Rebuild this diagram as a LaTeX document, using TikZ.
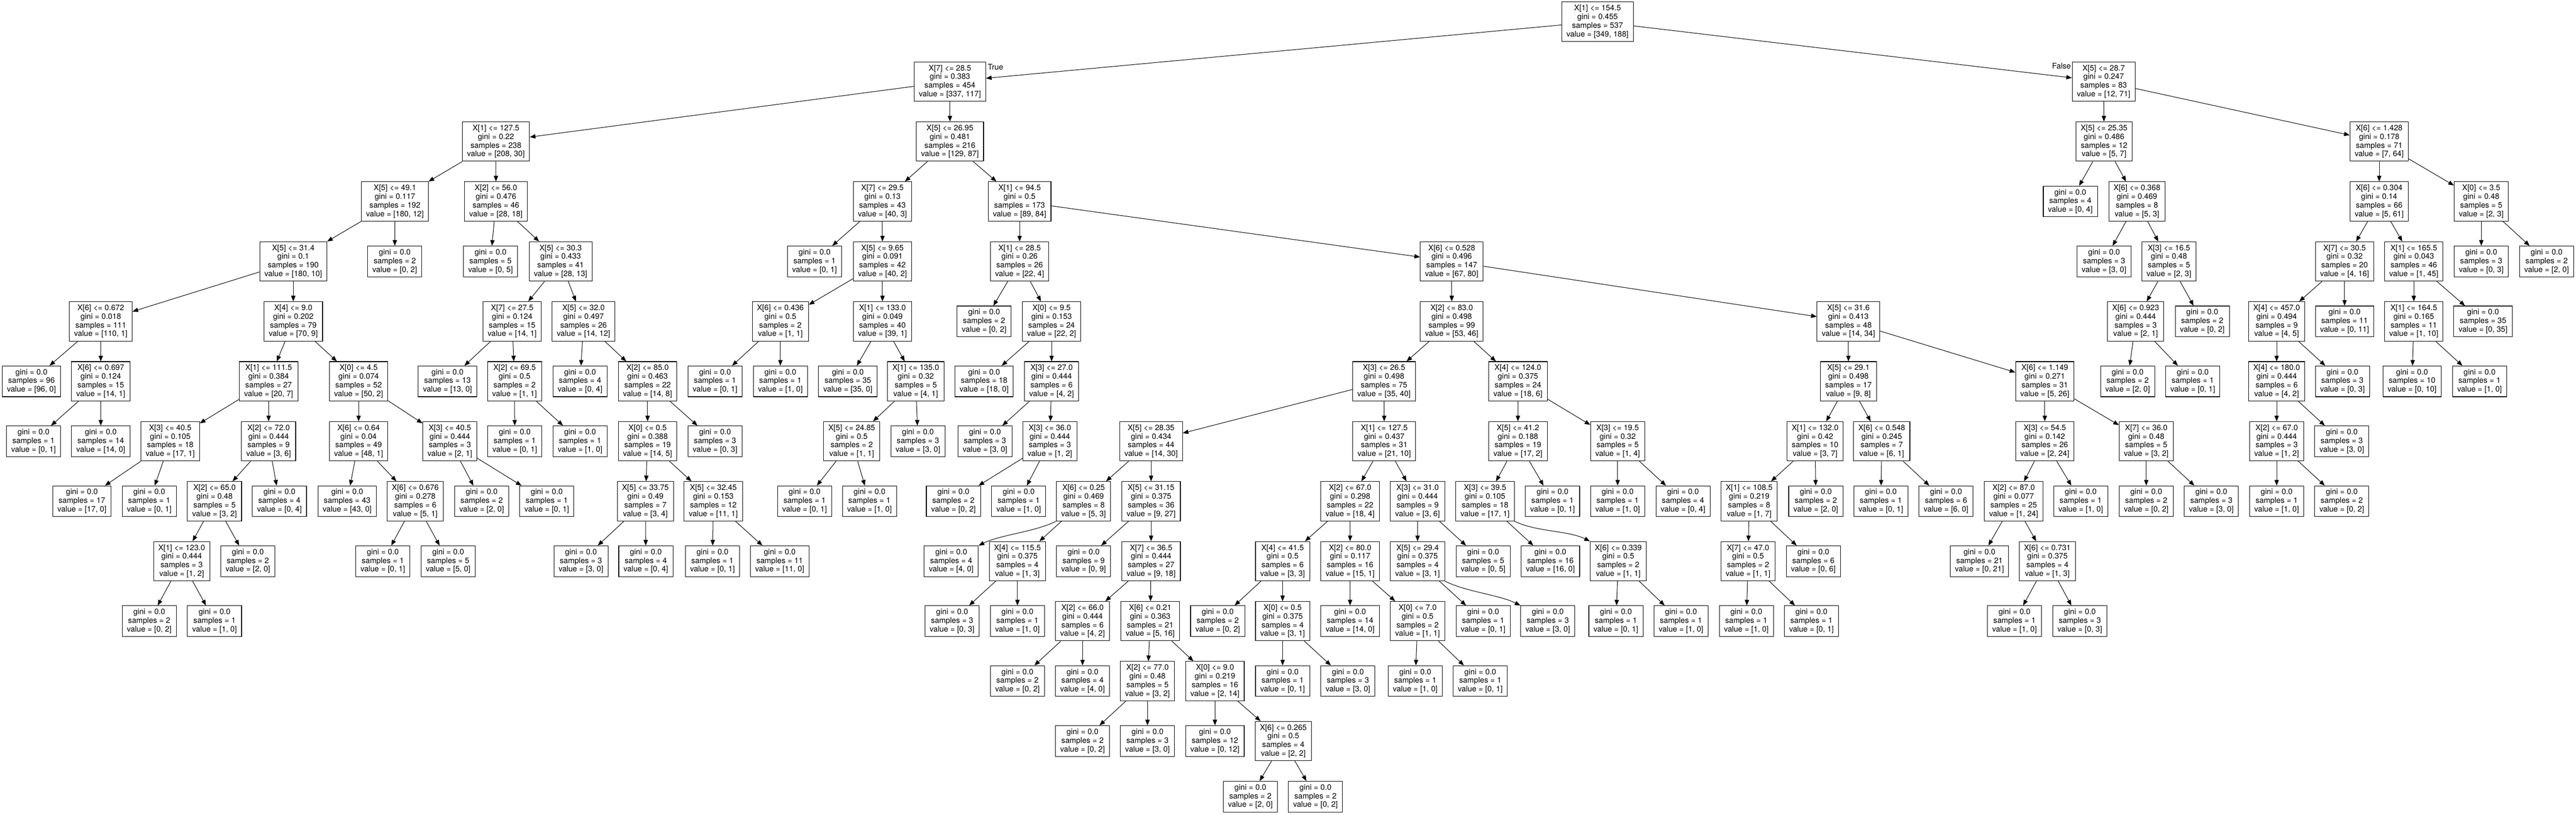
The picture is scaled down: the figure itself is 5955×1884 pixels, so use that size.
\documentclass[tikz,border=0pt]{standalone}
\usepackage{fontspec}
\setmainfont{TeX Gyre Heros}
\usepackage{tikz}
\usetikzlibrary{arrows.meta}

\begin{document}
\begin{tikzpicture}[x=0.1mm, y=-0.1mm]
	\tikzstyle{splitbox}=[draw=black, line width=0.13mm, rectangle, minimum height=9.1mm, inner xsep=1.1mm, inner ysep=0mm, align=center, font=\fontsize{5.12pt}{5.69pt}\selectfont]
	\tikzstyle{leafbox}=[splitbox, minimum height=7.1mm]
	\tikzstyle{branch}=[line width=0.12mm, -{Triangle[length=1.3mm, width=1mm]}]
	\tikzstyle{side}=[inner sep=0mm, font=\fontsize{5.12pt}{5.69pt}\selectfont]

	\useasboundingbox (0, 0) rectangle (5955, 1884);

	% level 0
	\draw node[splitbox] at (3693, 50) (n0) {X[1] <= 154.5\\gini = 0.455\\samples = 537\\value = [349, 188]};

	% level 1
	\draw node[splitbox] at (2196, 188.6) (n1) {X[7] <= 28.5\\gini = 0.383\\samples = 454\\value = [337, 117]};
	\draw node[splitbox] at (4863, 188.6) (n2) {X[5] <= 28.7\\gini = 0.247\\samples = 83\\value = [12, 71]};
	\draw node[side, anchor=west] at (2283, 155) (ltrue) {True};
	\draw node[side, anchor=east] at (4788, 153) (lfalse) {False};

	% level 2
	\draw node[splitbox] at (1146.5, 327.2) (n3) {X[1] <= 127.5\\gini = 0.22\\samples = 238\\value = [208, 30]};
	\draw node[splitbox] at (2196, 327.2) (n4) {X[5] <= 26.95\\gini = 0.481\\samples = 216\\value = [129, 87]};
	\draw node[splitbox] at (4864, 327.2) (n5) {X[5] <= 25.35\\gini = 0.486\\samples = 12\\value = [5, 7]};
	\draw node[splitbox] at (5500, 327.2) (n6) {X[6] <= 1.428\\gini = 0.178\\samples = 71\\value = [7, 64]};

	% level 3
	\draw node[splitbox] at (913, 465.8) (n7) {X[5] <= 49.1\\gini = 0.117\\samples = 192\\value = [180, 12]};
	\draw node[splitbox] at (1146.5, 465.8) (n8) {X[2] <= 56.0\\gini = 0.476\\samples = 46\\value = [28, 18]};
	\draw node[splitbox] at (2040, 465.8) (n9) {X[7] <= 29.5\\gini = 0.13\\samples = 43\\value = [40, 3]};
	\draw node[splitbox] at (2357, 465.8) (n10) {X[1] <= 94.5\\gini = 0.5\\samples = 173\\value = [89, 84]};
	\draw node[leafbox] at (4786, 465.8) (n11) {gini = 0.0\\samples = 4\\value = [0, 4]};
	\draw node[splitbox] at (4940, 465.8) (n12) {X[6] <= 0.368\\gini = 0.469\\samples = 8\\value = [5, 3]};
	\draw node[splitbox] at (5500, 465.8) (n13) {X[6] <= 0.304\\gini = 0.14\\samples = 66\\value = [5, 61]};
	\draw node[splitbox] at (5736, 465.8) (n14) {X[0] <= 3.5\\gini = 0.48\\samples = 5\\value = [2, 3]};

	% level 4
	\draw node[splitbox] at (678, 604.4) (n15) {X[5] <= 31.4\\gini = 0.1\\samples = 190\\value = [180, 10]};
	\draw node[leafbox] at (912.6, 604.4) (n16) {gini = 0.0\\samples = 2\\value = [0, 2]};
	\draw node[leafbox] at (1134, 604.4) (n17) {gini = 0.0\\samples = 5\\value = [0, 5]};
	\draw node[splitbox] at (1296, 604.4) (n18) {X[5] <= 30.3\\gini = 0.433\\samples = 41\\value = [28, 13]};
	\draw node[leafbox] at (1883, 604.4) (n19) {gini = 0.0\\samples = 1\\value = [0, 1]};
	\draw node[splitbox] at (2040, 604.4) (n20) {X[5] <= 9.65\\gini = 0.091\\samples = 42\\value = [40, 2]};
	\draw node[splitbox] at (2357, 604.4) (n21) {X[1] <= 28.5\\gini = 0.26\\samples = 26\\value = [22, 4]};
	\draw node[splitbox] at (3356, 604.4) (n22) {X[6] <= 0.528\\gini = 0.496\\samples = 147\\value = [67, 80]};
	\draw node[leafbox] at (4864, 604.4) (n23) {gini = 0.0\\samples = 3\\value = [3, 0]};
	\draw node[splitbox] at (5014, 604.4) (n24) {X[3] <= 16.5\\gini = 0.48\\samples = 5\\value = [2, 3]};
	\draw node[splitbox] at (5420, 604.4) (n25) {X[7] <= 30.5\\gini = 0.32\\samples = 20\\value = [4, 16]};
	\draw node[splitbox] at (5580, 604.4) (n26) {X[1] <= 165.5\\gini = 0.043\\samples = 46\\value = [1, 45]};
	\draw node[leafbox] at (5736, 604.4) (n27) {gini = 0.0\\samples = 3\\value = [0, 3]};
	\draw node[leafbox] at (5887, 604.4) (n28) {gini = 0.0\\samples = 2\\value = [2, 0]};

	% level 5
	\draw node[splitbox] at (233, 743) (n29) {X[6] <= 0.672\\gini = 0.018\\samples = 111\\value = [110, 1]};
	\draw node[splitbox] at (678, 743) (n30) {X[4] <= 9.0\\gini = 0.202\\samples = 79\\value = [70, 9]};
	\draw node[splitbox] at (1184, 743) (n31) {X[7] <= 27.5\\gini = 0.124\\samples = 15\\value = [14, 1]};
	\draw node[splitbox] at (1349, 743) (n32) {X[5] <= 32.0\\gini = 0.497\\samples = 26\\value = [14, 12]};
	\draw node[splitbox] at (1804, 743) (n33) {X[6] <= 0.436\\gini = 0.5\\samples = 2\\value = [1, 1]};
	\draw node[splitbox] at (2040, 743) (n34) {X[1] <= 133.0\\gini = 0.049\\samples = 40\\value = [39, 1]};
	\draw node[leafbox] at (2275, 743) (n35) {gini = 0.0\\samples = 2\\value = [0, 2]};
	\draw node[splitbox] at (2431, 743) (n36) {X[0] <= 9.5\\gini = 0.153\\samples = 24\\value = [22, 2]};
	\draw node[splitbox] at (3356, 743) (n37) {X[2] <= 83.0\\gini = 0.498\\samples = 99\\value = [53, 46]};
	\draw node[splitbox] at (4273, 743) (n38) {X[5] <= 31.6\\gini = 0.413\\samples = 48\\value = [14, 34]};
	\draw node[splitbox] at (4937, 743) (n39) {X[6] <= 0.923\\gini = 0.444\\samples = 3\\value = [2, 1]};
	\draw node[leafbox] at (5091, 743) (n40) {gini = 0.0\\samples = 2\\value = [0, 2]};
	\draw node[splitbox] at (5263, 743) (n41) {X[4] <= 457.0\\gini = 0.494\\samples = 9\\value = [4, 5]};
	\draw node[leafbox] at (5420, 743) (n42) {gini = 0.0\\samples = 11\\value = [0, 11]};
	\draw node[splitbox] at (5580, 743) (n43) {X[1] <= 164.5\\gini = 0.165\\samples = 11\\value = [1, 10]};
	\draw node[leafbox] at (5740, 743) (n44) {gini = 0.0\\samples = 35\\value = [0, 35]};

	% level 6
	\draw node[leafbox] at (72.7, 881.6) (n45) {gini = 0.0\\samples = 96\\value = [96, 0]};
	\draw node[splitbox] at (233, 881.6) (n46) {X[6] <= 0.697\\gini = 0.124\\samples = 15\\value = [14, 1]};
	\draw node[splitbox] at (621, 881.6) (n47) {X[1] <= 111.5\\gini = 0.384\\samples = 27\\value = [20, 7]};
	\draw node[splitbox] at (829, 881.6) (n48) {X[0] <= 4.5\\gini = 0.074\\samples = 52\\value = [50, 2]};
	\draw node[leafbox] at (1034.5, 881.6) (n49) {gini = 0.0\\samples = 13\\value = [13, 0]};
	\draw node[splitbox] at (1189.5, 881.6) (n50) {X[2] <= 69.5\\gini = 0.5\\samples = 2\\value = [1, 1]};
	\draw node[leafbox] at (1341, 881.6) (n51) {gini = 0.0\\samples = 4\\value = [0, 4]};
	\draw node[splitbox] at (1497, 881.6) (n52) {X[2] <= 85.0\\gini = 0.463\\samples = 22\\value = [14, 8]};
	\draw node[leafbox] at (1653, 881.6) (n53) {gini = 0.0\\samples = 1\\value = [0, 1]};
	\draw node[leafbox] at (1804, 881.6) (n54) {gini = 0.0\\samples = 1\\value = [1, 0]};
	\draw node[leafbox] at (1960, 881.6) (n55) {gini = 0.0\\samples = 35\\value = [35, 0]};
	\draw node[splitbox] at (2117, 881.6) (n56) {X[1] <= 135.0\\gini = 0.32\\samples = 5\\value = [4, 1]};
	\draw node[leafbox] at (2275, 881.6) (n57) {gini = 0.0\\samples = 18\\value = [18, 0]};
	\draw node[splitbox] at (2431, 881.6) (n58) {X[3] <= 27.0\\gini = 0.444\\samples = 6\\value = [4, 2]};
	\draw node[splitbox] at (3199.5, 881.6) (n59) {X[3] <= 26.5\\gini = 0.498\\samples = 75\\value = [35, 40]};
	\draw node[splitbox] at (3509, 881.6) (n60) {X[4] <= 124.0\\gini = 0.375\\samples = 24\\value = [18, 6]};
	\draw node[splitbox] at (4273, 881.6) (n61) {X[5] <= 29.1\\gini = 0.498\\samples = 17\\value = [9, 8]};
	\draw node[splitbox] at (4727, 881.6) (n62) {X[6] <= 1.149\\gini = 0.271\\samples = 31\\value = [5, 26]};
	\draw node[leafbox] at (4918.5, 881.6) (n63) {gini = 0.0\\samples = 2\\value = [2, 0]};
	\draw node[leafbox] at (5069, 881.6) (n64) {gini = 0.0\\samples = 1\\value = [0, 1]};
	\draw node[splitbox] at (5263, 881.6) (n65) {X[4] <= 180.0\\gini = 0.444\\samples = 6\\value = [4, 2]};
	\draw node[leafbox] at (5415, 881.6) (n66) {gini = 0.0\\samples = 3\\value = [0, 3]};
	\draw node[leafbox] at (5576, 881.6) (n67) {gini = 0.0\\samples = 10\\value = [0, 10]};
	\draw node[leafbox] at (5732, 881.6) (n68) {gini = 0.0\\samples = 1\\value = [1, 0]};

	% level 7
	\draw node[leafbox] at (77.5, 1020.2) (n69) {gini = 0.0\\samples = 1\\value = [0, 1]};
	\draw node[leafbox] at (233, 1020.2) (n70) {gini = 0.0\\samples = 14\\value = [14, 0]};
	\draw node[splitbox] at (393.6, 1020.2) (n71) {X[3] <= 40.5\\gini = 0.105\\samples = 18\\value = [17, 1]};
	\draw node[splitbox] at (621, 1020.2) (n72) {X[2] <= 72.0\\gini = 0.444\\samples = 9\\value = [3, 6]};
	\draw node[splitbox] at (829, 1020.2) (n73) {X[6] <= 0.64\\gini = 0.04\\samples = 49\\value = [48, 1]};
	\draw node[splitbox] at (1040, 1020.2) (n74) {X[3] <= 40.5\\gini = 0.444\\samples = 3\\value = [2, 1]};
	\draw node[leafbox] at (1190, 1020.2) (n75) {gini = 0.0\\samples = 1\\value = [0, 1]};
	\draw node[leafbox] at (1341, 1020.2) (n76) {gini = 0.0\\samples = 1\\value = [1, 0]};
	\draw node[splitbox] at (1497, 1020.2) (n77) {X[0] <= 0.5\\gini = 0.388\\samples = 19\\value = [14, 5]};
	\draw node[leafbox] at (1653, 1020.2) (n78) {gini = 0.0\\samples = 3\\value = [0, 3]};
	\draw node[splitbox] at (1969, 1020.2) (n79) {X[5] <= 24.85\\gini = 0.5\\samples = 2\\value = [1, 1]};
	\draw node[leafbox] at (2122, 1020.2) (n80) {gini = 0.0\\samples = 3\\value = [3, 0]};
	\draw node[leafbox] at (2277, 1020.2) (n81) {gini = 0.0\\samples = 3\\value = [3, 0]};
	\draw node[splitbox] at (2427, 1020.2) (n82) {X[3] <= 36.0\\gini = 0.444\\samples = 3\\value = [1, 2]};
	\draw node[splitbox] at (2661, 1020.2) (n83) {X[5] <= 28.35\\gini = 0.434\\samples = 44\\value = [14, 30]};
	\draw node[splitbox] at (3200, 1020.2) (n84) {X[1] <= 127.5\\gini = 0.437\\samples = 31\\value = [21, 10]};
	\draw node[splitbox] at (3509, 1020.2) (n85) {X[5] <= 41.2\\gini = 0.188\\samples = 19\\value = [17, 2]};
	\draw node[splitbox] at (3739.5, 1020.2) (n86) {X[3] <= 19.5\\gini = 0.32\\samples = 5\\value = [1, 4]};
	\draw node[splitbox] at (4196, 1020.2) (n87) {X[1] <= 132.0\\gini = 0.42\\samples = 10\\value = [3, 7]};
	\draw node[splitbox] at (4350, 1020.2) (n88) {X[6] <= 0.548\\gini = 0.245\\samples = 7\\value = [6, 1]};
	\draw node[splitbox] at (4727, 1020.2) (n89) {X[3] <= 54.5\\gini = 0.142\\samples = 26\\value = [2, 24]};
	\draw node[splitbox] at (4961.5, 1020.2) (n90) {X[7] <= 36.0\\gini = 0.48\\samples = 5\\value = [3, 2]};
	\draw node[splitbox] at (5263, 1020.2) (n91) {X[2] <= 67.0\\gini = 0.444\\samples = 3\\value = [1, 2]};
	\draw node[leafbox] at (5413.5, 1020.2) (n92) {gini = 0.0\\samples = 3\\value = [3, 0]};

	% level 8
	\draw node[leafbox] at (189.4, 1158.8) (n93) {gini = 0.0\\samples = 17\\value = [17, 0]};
	\draw node[leafbox] at (345, 1158.8) (n94) {gini = 0.0\\samples = 1\\value = [0, 1]};
	\draw node[splitbox] at (496, 1158.8) (n95) {X[2] <= 65.0\\gini = 0.48\\samples = 5\\value = [3, 2]};
	\draw node[leafbox] at (646, 1158.8) (n96) {gini = 0.0\\samples = 4\\value = [0, 4]};
	\draw node[leafbox] at (802.6, 1158.8) (n97) {gini = 0.0\\samples = 43\\value = [43, 0]};
	\draw node[splitbox] at (960, 1158.8) (n98) {X[6] <= 0.676\\gini = 0.278\\samples = 6\\value = [5, 1]};
	\draw node[leafbox] at (1113.5, 1158.8) (n99) {gini = 0.0\\samples = 2\\value = [2, 0]};
	\draw node[leafbox] at (1264, 1158.8) (n100) {gini = 0.0\\samples = 1\\value = [0, 1]};
	\draw node[splitbox] at (1492, 1158.8) (n101) {X[5] <= 33.75\\gini = 0.49\\samples = 7\\value = [3, 4]};
	\draw node[splitbox] at (1649, 1158.8) (n102) {X[5] <= 32.45\\gini = 0.153\\samples = 12\\value = [11, 1]};
	\draw node[leafbox] at (1860, 1158.8) (n103) {gini = 0.0\\samples = 1\\value = [0, 1]};
	\draw node[leafbox] at (2010, 1158.8) (n104) {gini = 0.0\\samples = 1\\value = [1, 0]};
	\draw node[leafbox] at (2204, 1158.8) (n105) {gini = 0.0\\samples = 2\\value = [0, 2]};
	\draw node[leafbox] at (2355, 1158.8) (n106) {gini = 0.0\\samples = 1\\value = [1, 0]};
	\draw node[splitbox] at (2505, 1158.8) (n107) {X[6] <= 0.25\\gini = 0.469\\samples = 8\\value = [5, 3]};
	\draw node[splitbox] at (2661, 1158.8) (n108) {X[5] <= 31.15\\gini = 0.375\\samples = 36\\value = [9, 27]};
	\draw node[splitbox] at (3121, 1158.8) (n109) {X[2] <= 67.0\\gini = 0.298\\samples = 22\\value = [18, 4]};
	\draw node[splitbox] at (3277, 1158.8) (n110) {X[3] <= 31.0\\gini = 0.444\\samples = 9\\value = [3, 6]};
	\draw node[splitbox] at (3433, 1158.8) (n111) {X[3] <= 39.5\\gini = 0.105\\samples = 18\\value = [17, 1]};
	\draw node[leafbox] at (3589, 1158.8) (n112) {gini = 0.0\\samples = 1\\value = [0, 1]};
	\draw node[leafbox] at (3739.5, 1158.8) (n113) {gini = 0.0\\samples = 1\\value = [1, 0]};
	\draw node[leafbox] at (3890.6, 1158.8) (n114) {gini = 0.0\\samples = 4\\value = [0, 4]};
	\draw node[splitbox] at (4043.6, 1158.8) (n115) {X[1] <= 108.5\\gini = 0.219\\samples = 8\\value = [1, 7]};
	\draw node[leafbox] at (4197.7, 1158.8) (n116) {gini = 0.0\\samples = 2\\value = [2, 0]};
	\draw node[leafbox] at (4348, 1158.8) (n117) {gini = 0.0\\samples = 1\\value = [0, 1]};
	\draw node[leafbox] at (4498.7, 1158.8) (n118) {gini = 0.0\\samples = 6\\value = [6, 0]};
	\draw node[splitbox] at (4655, 1158.8) (n119) {X[2] <= 87.0\\gini = 0.077\\samples = 25\\value = [1, 24]};
	\draw node[leafbox] at (4810, 1158.8) (n120) {gini = 0.0\\samples = 1\\value = [1, 0]};
	\draw node[leafbox] at (4961.5, 1158.8) (n121) {gini = 0.0\\samples = 2\\value = [0, 2]};
	\draw node[leafbox] at (5112, 1158.8) (n122) {gini = 0.0\\samples = 3\\value = [3, 0]};
	\draw node[leafbox] at (5263, 1158.8) (n123) {gini = 0.0\\samples = 1\\value = [1, 0]};
	\draw node[leafbox] at (5413.5, 1158.8) (n124) {gini = 0.0\\samples = 2\\value = [0, 2]};

	% level 9
	\draw node[splitbox] at (420, 1297.4) (n125) {X[1] <= 123.0\\gini = 0.444\\samples = 3\\value = [1, 2]};
	\draw node[leafbox] at (573, 1297.4) (n126) {gini = 0.0\\samples = 2\\value = [2, 0]};
	\draw node[leafbox] at (885, 1297.4) (n127) {gini = 0.0\\samples = 1\\value = [0, 1]};
	\draw node[leafbox] at (1036, 1297.4) (n128) {gini = 0.0\\samples = 5\\value = [5, 0]};
	\draw node[leafbox] at (1343, 1297.4) (n129) {gini = 0.0\\samples = 3\\value = [3, 0]};
	\draw node[leafbox] at (1493, 1297.4) (n130) {gini = 0.0\\samples = 4\\value = [0, 4]};
	\draw node[leafbox] at (1647, 1297.4) (n131) {gini = 0.0\\samples = 1\\value = [0, 1]};
	\draw node[leafbox] at (1802.5, 1297.4) (n132) {gini = 0.0\\samples = 11\\value = [11, 0]};
	\draw node[leafbox] at (2199, 1297.4) (n133) {gini = 0.0\\samples = 4\\value = [4, 0]};
	\draw node[splitbox] at (2352, 1297.4) (n134) {X[4] <= 115.5\\gini = 0.375\\samples = 4\\value = [1, 3]};
	\draw node[leafbox] at (2505, 1297.4) (n135) {gini = 0.0\\samples = 9\\value = [0, 9]};
	\draw node[splitbox] at (2661, 1297.4) (n136) {X[7] <= 36.5\\gini = 0.444\\samples = 27\\value = [9, 18]};
	\draw node[splitbox] at (2965, 1297.4) (n137) {X[4] <= 41.5\\gini = 0.5\\samples = 6\\value = [3, 3]};
	\draw node[splitbox] at (3121, 1297.4) (n138) {X[2] <= 80.0\\gini = 0.117\\samples = 16\\value = [15, 1]};
	\draw node[splitbox] at (3277, 1297.4) (n139) {X[5] <= 29.4\\gini = 0.375\\samples = 4\\value = [3, 1]};
	\draw node[leafbox] at (3428.6, 1297.4) (n140) {gini = 0.0\\samples = 5\\value = [0, 5]};
	\draw node[leafbox] at (3584, 1297.4) (n141) {gini = 0.0\\samples = 16\\value = [16, 0]};
	\draw node[splitbox] at (3741, 1297.4) (n142) {X[6] <= 0.339\\gini = 0.5\\samples = 2\\value = [1, 1]};
	\draw node[splitbox] at (4041, 1297.4) (n143) {X[7] <= 47.0\\gini = 0.5\\samples = 2\\value = [1, 1]};
	\draw node[leafbox] at (4192, 1297.4) (n144) {gini = 0.0\\samples = 6\\value = [0, 6]};
	\draw node[leafbox] at (4576, 1297.4) (n145) {gini = 0.0\\samples = 21\\value = [0, 21]};
	\draw node[splitbox] at (4733, 1297.4) (n146) {X[6] <= 0.731\\gini = 0.375\\samples = 4\\value = [1, 3]};

	% level 10
	\draw node[leafbox] at (345, 1436) (n147) {gini = 0.0\\samples = 2\\value = [0, 2]};
	\draw node[leafbox] at (496, 1436) (n148) {gini = 0.0\\samples = 1\\value = [1, 0]};
	\draw node[leafbox] at (2201, 1436) (n149) {gini = 0.0\\samples = 3\\value = [0, 3]};
	\draw node[leafbox] at (2352, 1436) (n150) {gini = 0.0\\samples = 1\\value = [1, 0]};
	\draw node[splitbox] at (2502.5, 1436) (n151) {X[2] <= 66.0\\gini = 0.444\\samples = 6\\value = [4, 2]};
	\draw node[splitbox] at (2659, 1436) (n152) {X[6] <= 0.21\\gini = 0.363\\samples = 21\\value = [5, 16]};
	\draw node[leafbox] at (2815, 1436) (n153) {gini = 0.0\\samples = 2\\value = [0, 2]};
	\draw node[splitbox] at (2965, 1436) (n154) {X[0] <= 0.5\\gini = 0.375\\samples = 4\\value = [3, 1]};
	\draw node[leafbox] at (3121, 1436) (n155) {gini = 0.0\\samples = 14\\value = [14, 0]};
	\draw node[splitbox] at (3277, 1436) (n156) {X[0] <= 7.0\\gini = 0.5\\samples = 2\\value = [1, 1]};
	\draw node[leafbox] at (3428.6, 1436) (n157) {gini = 0.0\\samples = 1\\value = [0, 1]};
	\draw node[leafbox] at (3578, 1436) (n158) {gini = 0.0\\samples = 3\\value = [3, 0]};
	\draw node[leafbox] at (3735.6, 1436) (n159) {gini = 0.0\\samples = 1\\value = [0, 1]};
	\draw node[leafbox] at (3886, 1436) (n160) {gini = 0.0\\samples = 1\\value = [1, 0]};
	\draw node[leafbox] at (4037, 1436) (n161) {gini = 0.0\\samples = 1\\value = [1, 0]};
	\draw node[leafbox] at (4187.6, 1436) (n162) {gini = 0.0\\samples = 1\\value = [0, 1]};
	\draw node[leafbox] at (4657, 1436) (n163) {gini = 0.0\\samples = 1\\value = [1, 0]};
	\draw node[leafbox] at (4808, 1436) (n164) {gini = 0.0\\samples = 3\\value = [0, 3]};

	% level 11
	\draw node[leafbox] at (2352, 1574.6) (n165) {gini = 0.0\\samples = 2\\value = [0, 2]};
	\draw node[leafbox] at (2502.5, 1574.6) (n166) {gini = 0.0\\samples = 4\\value = [4, 0]};
	\draw node[splitbox] at (2652.7, 1574.6) (n167) {X[2] <= 77.0\\gini = 0.48\\samples = 5\\value = [3, 2]};
	\draw node[splitbox] at (2808.6, 1574.6) (n168) {X[0] <= 9.0\\gini = 0.219\\samples = 16\\value = [2, 14]};
	\draw node[leafbox] at (2965, 1574.6) (n169) {gini = 0.0\\samples = 1\\value = [0, 1]};
	\draw node[leafbox] at (3116, 1574.6) (n170) {gini = 0.0\\samples = 3\\value = [3, 0]};
	\draw node[leafbox] at (3271.7, 1574.6) (n171) {gini = 0.0\\samples = 1\\value = [1, 0]};
	\draw node[leafbox] at (3422, 1574.6) (n172) {gini = 0.0\\samples = 1\\value = [0, 1]};

	% level 12
	\draw node[leafbox] at (2502.5, 1713.2) (n173) {gini = 0.0\\samples = 2\\value = [0, 2]};
	\draw node[leafbox] at (2652.7, 1713.2) (n174) {gini = 0.0\\samples = 3\\value = [3, 0]};
	\draw node[leafbox] at (2808.6, 1713.2) (n175) {gini = 0.0\\samples = 12\\value = [0, 12]};
	\draw node[splitbox] at (2966.7, 1713.2) (n176) {X[6] <= 0.265\\gini = 0.5\\samples = 4\\value = [2, 2]};

	% level 13
	\draw node[leafbox] at (2890.5, 1841.7) (n177) {gini = 0.0\\samples = 2\\value = [2, 0]};
	\draw node[leafbox] at (3041, 1841.7) (n178) {gini = 0.0\\samples = 2\\value = [0, 2]};

	% branches
	\draw[branch] (n0) -- (n1); \draw[branch] (n0) -- (n2);
	\draw[branch] (n1) -- (n3); \draw[branch] (n1) -- (n4);
	\draw[branch] (n2) -- (n5); \draw[branch] (n2) -- (n6);
	\draw[branch] (n3) -- (n7); \draw[branch] (n3) -- (n8);
	\draw[branch] (n4) -- (n9); \draw[branch] (n4) -- (n10);
	\draw[branch] (n5) -- (n11); \draw[branch] (n5) -- (n12);
	\draw[branch] (n6) -- (n13); \draw[branch] (n6) -- (n14);
	\draw[branch] (n7) -- (n15); \draw[branch] (n7) -- (n16);
	\draw[branch] (n8) -- (n17); \draw[branch] (n8) -- (n18);
	\draw[branch] (n9) -- (n19); \draw[branch] (n9) -- (n20);
	\draw[branch] (n10) -- (n21); \draw[branch] (n10) -- (n22);
	\draw[branch] (n12) -- (n23); \draw[branch] (n12) -- (n24);
	\draw[branch] (n13) -- (n25); \draw[branch] (n13) -- (n26);
	\draw[branch] (n14) -- (n27); \draw[branch] (n14) -- (n28);
	\draw[branch] (n15) -- (n29); \draw[branch] (n15) -- (n30);
	\draw[branch] (n18) -- (n31); \draw[branch] (n18) -- (n32);
	\draw[branch] (n20) -- (n33); \draw[branch] (n20) -- (n34);
	\draw[branch] (n21) -- (n35); \draw[branch] (n21) -- (n36);
	\draw[branch] (n22) -- (n37); \draw[branch] (n22) -- (n38);
	\draw[branch] (n24) -- (n39); \draw[branch] (n24) -- (n40);
	\draw[branch] (n25) -- (n41); \draw[branch] (n25) -- (n42);
	\draw[branch] (n26) -- (n43); \draw[branch] (n26) -- (n44);
	\draw[branch] (n29) -- (n45); \draw[branch] (n29) -- (n46);
	\draw[branch] (n30) -- (n47); \draw[branch] (n30) -- (n48);
	\draw[branch] (n31) -- (n49); \draw[branch] (n31) -- (n50);
	\draw[branch] (n32) -- (n51); \draw[branch] (n32) -- (n52);
	\draw[branch] (n33) -- (n53); \draw[branch] (n33) -- (n54);
	\draw[branch] (n34) -- (n55); \draw[branch] (n34) -- (n56);
	\draw[branch] (n36) -- (n57); \draw[branch] (n36) -- (n58);
	\draw[branch] (n37) -- (n59); \draw[branch] (n37) -- (n60);
	\draw[branch] (n38) -- (n61); \draw[branch] (n38) -- (n62);
	\draw[branch] (n39) -- (n63); \draw[branch] (n39) -- (n64);
	\draw[branch] (n41) -- (n65); \draw[branch] (n41) -- (n66);
	\draw[branch] (n43) -- (n67); \draw[branch] (n43) -- (n68);
	\draw[branch] (n46) -- (n69); \draw[branch] (n46) -- (n70);
	\draw[branch] (n47) -- (n71); \draw[branch] (n47) -- (n72);
	\draw[branch] (n48) -- (n73); \draw[branch] (n48) -- (n74);
	\draw[branch] (n50) -- (n75); \draw[branch] (n50) -- (n76);
	\draw[branch] (n52) -- (n77); \draw[branch] (n52) -- (n78);
	\draw[branch] (n56) -- (n79); \draw[branch] (n56) -- (n80);
	\draw[branch] (n58) -- (n81); \draw[branch] (n58) -- (n82);
	\draw[branch] (n59) -- (n83); \draw[branch] (n59) -- (n84);
	\draw[branch] (n60) -- (n85); \draw[branch] (n60) -- (n86);
	\draw[branch] (n61) -- (n87); \draw[branch] (n61) -- (n88);
	\draw[branch] (n62) -- (n89); \draw[branch] (n62) -- (n90);
	\draw[branch] (n65) -- (n91); \draw[branch] (n65) -- (n92);
	\draw[branch] (n71) -- (n93); \draw[branch] (n71) -- (n94);
	\draw[branch] (n72) -- (n95); \draw[branch] (n72) -- (n96);
	\draw[branch] (n73) -- (n97); \draw[branch] (n73) -- (n98);
	\draw[branch] (n74) -- (n99); \draw[branch] (n74) -- (n100);
	\draw[branch] (n77) -- (n101); \draw[branch] (n77) -- (n102);
	\draw[branch] (n79) -- (n103); \draw[branch] (n79) -- (n104);
	\draw[branch] (n82) -- (n105); \draw[branch] (n82) -- (n106);
	\draw[branch] (n83) -- (n107); \draw[branch] (n83) -- (n108);
	\draw[branch] (n84) -- (n109); \draw[branch] (n84) -- (n110);
	\draw[branch] (n85) -- (n111); \draw[branch] (n85) -- (n112);
	\draw[branch] (n86) -- (n113); \draw[branch] (n86) -- (n114);
	\draw[branch] (n87) -- (n115); \draw[branch] (n87) -- (n116);
	\draw[branch] (n88) -- (n117); \draw[branch] (n88) -- (n118);
	\draw[branch] (n89) -- (n119); \draw[branch] (n89) -- (n120);
	\draw[branch] (n90) -- (n121); \draw[branch] (n90) -- (n122);
	\draw[branch] (n91) -- (n123); \draw[branch] (n91) -- (n124);
	\draw[branch] (n95) -- (n125); \draw[branch] (n95) -- (n126);
	\draw[branch] (n98) -- (n127); \draw[branch] (n98) -- (n128);
	\draw[branch] (n101) -- (n129); \draw[branch] (n101) -- (n130);
	\draw[branch] (n102) -- (n131); \draw[branch] (n102) -- (n132);
	\draw[branch] (n107.south west) .. controls +(-50, 25) and +(50, -25) .. (n133.north east);
	\draw[branch] (n107) -- (n134);
	\draw[branch] (n108) -- (n135); \draw[branch] (n108) -- (n136);
	\draw[branch] (n109) -- (n137); \draw[branch] (n109) -- (n138);
	\draw[branch] (n110) -- (n139); \draw[branch] (n110) -- (n140);
	\draw[branch] (n111) -- (n141);
	\draw[branch] (n111.south east) .. controls +(50, 25) and +(-50, -25) .. (n142.north west);
	\draw[branch] (n115) -- (n143); \draw[branch] (n115) -- (n144);
	\draw[branch] (n119) -- (n145); \draw[branch] (n119) -- (n146);
	\draw[branch] (n125) -- (n147); \draw[branch] (n125) -- (n148);
	\draw[branch] (n134) -- (n149); \draw[branch] (n134) -- (n150);
	\draw[branch] (n136) -- (n151); \draw[branch] (n136) -- (n152);
	\draw[branch] (n137) -- (n153); \draw[branch] (n137) -- (n154);
	\draw[branch] (n138) -- (n155); \draw[branch] (n138) -- (n156);
	\draw[branch] (n139) -- (n157);
	\draw[branch] (n139.south east) .. controls +(50, 25) and +(-50, -25) .. (n158.north west);
	\draw[branch] (n142) -- (n159); \draw[branch] (n142) -- (n160);
	\draw[branch] (n143) -- (n161); \draw[branch] (n143) -- (n162);
	\draw[branch] (n146) -- (n163); \draw[branch] (n146) -- (n164);
	\draw[branch] (n151) -- (n165); \draw[branch] (n151) -- (n166);
	\draw[branch] (n152) -- (n167); \draw[branch] (n152) -- (n168);
	\draw[branch] (n154) -- (n169); \draw[branch] (n154) -- (n170);
	\draw[branch] (n156) -- (n171); \draw[branch] (n156) -- (n172);
	\draw[branch] (n167) -- (n173); \draw[branch] (n167) -- (n174);
	\draw[branch] (n168) -- (n175); \draw[branch] (n168) -- (n176);
	\draw[branch] (n176) -- (n177); \draw[branch] (n176) -- (n178);
\end{tikzpicture}
\end{document}
